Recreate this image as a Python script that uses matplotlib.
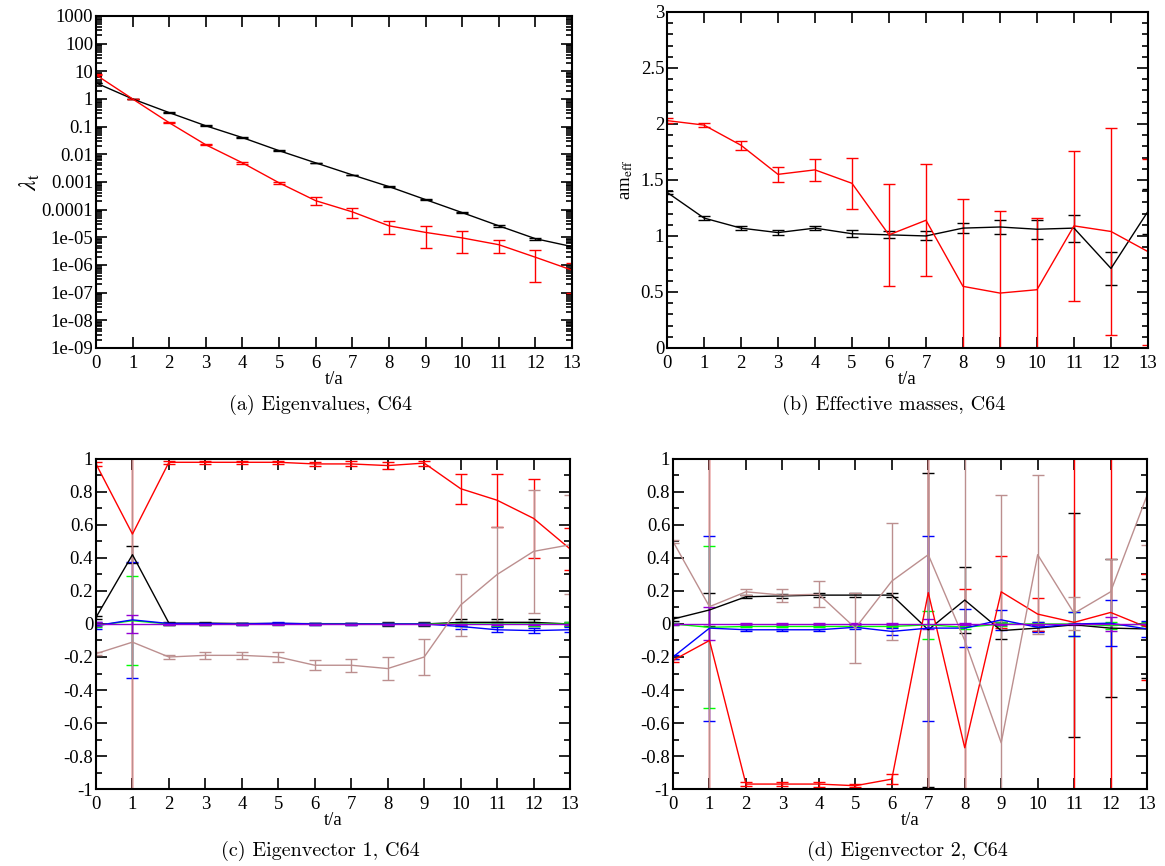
import numpy as np
import matplotlib
matplotlib.use("Agg")
import matplotlib.pyplot as plt
from matplotlib.ticker import FixedLocator, MultipleLocator, LogLocator, NullFormatter, FuncFormatter

plt.rcParams['font.family'] = ['Liberation Serif', 'DejaVu Serif']
plt.rcParams['mathtext.fontset'] = 'stix'
plt.rcParams['axes.unicode_minus'] = False

t = np.arange(14)

# ---------------- (a) eigenvalues ----------------
a_black = [3.8, 1.0, 0.32, 0.107, 0.04, 0.0135, 0.0049, 0.0018, 0.00068, 0.00023,
           7.8e-5, 2.6e-5, 8.9e-6, 4.6e-6]
a_black_err = [0.05, 0.0, 0.008, 0.003, 0.001, 0.0004, 0.00013, 5e-5, 2e-5, 8e-6,
               3e-6, 1.5e-6, 7e-7, 4e-7]
a_red = [7.4, 1.0, 0.138, 0.022, 0.0049, 0.00093, 2.1e-4, 8.3e-5, 2.6e-5, 1.5e-5,
         9.5e-6, 5.4e-6, 1.9e-6, 6.5e-7]
a_red_err = [0.3, 0.0, 0.007, 0.0012, 0.0003, 9e-5, 6.5e-5, 3.2e-5, 1.3e-5, 1.1e-5,
             6.8e-6, 2.7e-6, 1.65e-6, 5.5e-7]
a_ytick_vals = [1e3, 1e2, 1e1, 1e0, 1e-1, 1e-2, 1e-3, 1e-4, 1e-5, 1e-6, 1e-7, 1e-8, 1e-9]
a_ytick_labels = ['1000', '100', '10', '1', '0.1', '0.01', '0.001', '0.0001',
                  '1e-05', '1e-06', '1e-07', '1e-08', '1e-09']

# ---------------- (b) effective masses ----------------
b_black = [1.39, 1.16, 1.07, 1.03, 1.07, 1.02, 1.01, 1.0, 1.07, 1.08, 1.06, 1.07, 0.71, 1.22]
b_black_err = [0.015, 0.015, 0.02, 0.025, 0.02, 0.03, 0.03, 0.04, 0.045, 0.06, 0.085, 0.12, 0.15, 0.2]
b_red = [2.03, 1.99, 1.81, 1.55, 1.59, 1.47, 1.01, 1.14, 0.55, 0.49, 0.52, 1.09, 1.04, 0.86]
b_red_err = [0.02, 0.02, 0.04, 0.065, 0.1, 0.23, 0.455, 0.5, 0.78, 0.73, 0.64, 0.67, 0.92, 0.83]
b_ytick_labels = ['0', '0.5', '1', '1.5', '2', '2.5', '3']

# ---------------- (c) eigenvector 1 ----------------
c_black = [0.04, 0.42, 0.005, 0.005, 0.003, 0.003, 0.002, 0.002, 0.0, 0.0, 0.01, 0.01, 0.01, 0.0]
c_black_err = [0.01, 0.05, 0.01, 0.01, 0.005, 0.005, 0.005, 0.005, 0.01, 0.01, 0.02, 0.02, 0.02, 0.01]
c_red = [0.97, 0.545, 0.98, 0.98, 0.98, 0.98, 0.97, 0.97, 0.96, 0.975, 0.82, 0.75, 0.64, 0.455]
c_red_err = [0.01, 1.6, 0.01, 0.01, 0.01, 0.01, 0.01, 0.015, 0.02, 0.015, 0.09, 0.16, 0.24, 0.125]
c_green = [-0.01, 0.02, 0.0, 0.0, 0.0, 0.0, 0.0, 0.0, 0.0, 0.0, 0.0, 0.0, 0.0, 0.0]
c_green_err = [0.01, 0.27, 0.005, 0.005, 0.005, 0.005, 0.005, 0.005, 0.005, 0.005, 0.01, 0.01, 0.01, 0.01]
c_blue = [-0.01, 0.025, 0.003, 0.003, 0.0, 0.005, 0.0, 0.0, 0.0, 0.0, -0.015, -0.035, -0.04, -0.035]
c_blue_err = [0.02, 0.35, 0.005, 0.005, 0.005, 0.005, 0.005, 0.005, 0.005, 0.005, 0.015, 0.015, 0.015, 0.015]
c_violet = [0.0, 0.0, 0.0, 0.0, 0.0, 0.0, 0.0, 0.0, 0.0, 0.0, 0.0, 0.0, 0.0, 0.0]
c_violet_err = [0.01, 0.055, 0.005, 0.005, 0.005, 0.005, 0.005, 0.005, 0.005, 0.005, 0.005, 0.005, 0.005, 0.005]
c_brown = [-0.18, -0.11, -0.2, -0.19, -0.19, -0.2, -0.25, -0.25, -0.27, -0.2, 0.115, 0.3, 0.44, 0.48]
c_brown_err = [0.01, 1.5, 0.01, 0.02, 0.02, 0.03, 0.03, 0.04, 0.07, 0.11, 0.185, 0.29, 0.375, 0.3]

# ---------------- (d) eigenvector 2 ----------------
d_black = [0.03, 0.085, 0.165, 0.17, 0.175, 0.175, 0.175, -0.035, 0.145, -0.04, -0.025, -0.005, -0.025, -0.03]
d_black_err = [0.01, 0.1, 0.01, 0.01, 0.01, 0.01, 0.01, 0.95, 0.2, 0.05, 0.02, 0.68, 0.42, 0.3]
d_red = [-0.22, -0.1, -0.97, -0.97, -0.97, -0.98, -0.94, 0.19, -0.75, 0.195, 0.06, 0.01, 0.07, -0.02]
d_red_err = [0.01, 1.5, 0.01, 0.01, 0.015, 0.01, 0.03, 1.5, 0.96, 0.22, 0.1, 1.5, 1.5, 0.32]
d_green = [0.0, -0.02, -0.015, -0.015, -0.015, -0.015, -0.015, -0.005, -0.02, 0.0, 0.0, 0.0, -0.01, 0.0]
d_green_err = [0.005, 0.49, 0.005, 0.005, 0.005, 0.005, 0.005, 0.085, 0.01, 0.01, 0.01, 0.07, 0.02, 0.01]
d_blue = [-0.2, -0.025, -0.035, -0.035, -0.035, -0.02, -0.045, -0.025, -0.025, 0.025, -0.02, 0.0, 0.005, -0.03]
d_blue_err = [0.01, 0.56, 0.005, 0.005, 0.005, 0.01, 0.02, 0.56, 0.115, 0.06, 0.03, 0.07, 0.14, 0.05]
d_violet = [0.0, 0.0, 0.0, 0.0, 0.0, 0.0, 0.0, 0.0, 0.0, 0.0, 0.0, 0.0, 0.0, 0.0]
d_violet_err = [0.005, 0.1, 0.005, 0.005, 0.005, 0.005, 0.005, 0.03, 0.005, 0.005, 0.005, 0.005, 0.04, 0.005]
d_brown = [0.5, 0.105, 0.195, 0.175, 0.18, -0.025, 0.26, 0.42, -0.1, -0.72, 0.42, 0.065, 0.195, 0.78]
d_brown_err = [0.01, 1.5, 0.02, 0.04, 0.08, 0.21, 0.355, 1.5, 1.5, 1.5, 0.48, 0.1, 0.2, 0.3]

vec_ytick_labels = ['-1', '-0.8', '-0.6', '-0.4', '-0.2', '0', '0.2', '0.4', '0.6', '0.8', '1']

captions = ['(a) Eigenvalues, C64', '(b) Effective masses, C64',
            '(c) Eigenvector 1, C64', '(d) Eigenvector 2, C64']

C_BLACK = '#000000'
C_RED = '#ff0000'
C_GREEN = '#00ff00'
C_BLUE = '#0000ff'
C_VIOLET = '#9400d3'
C_BROWN = '#bc8f8f'

fig = plt.figure(figsize=(11.65, 8.66), dpi=100)

ax_a = fig.add_axes([0.0824, 0.5982, 0.4086, 0.3834])
ax_b = fig.add_axes([0.5725, 0.5982, 0.4129, 0.3880])
ax_c = fig.add_axes([0.0824, 0.0889, 0.4069, 0.3811])
ax_d = fig.add_axes([0.5777, 0.0889, 0.4069, 0.3811])

TICKFS = 13.5


def eb(ax, y, err, color):
    ax.errorbar(t, y, yerr=err, color=color, lw=1.0, elinewidth=1.0,
                capsize=4, capthick=1.0, clip_on=True)


def style(ax):
    for s in ax.spines.values():
        s.set_linewidth(1.5)
    ax.set_xlim(0, 13)
    ax.xaxis.set_major_locator(FixedLocator(list(t)))
    ax.tick_params(which='both', direction='in', top=True, right=True,
                   labelsize=TICKFS, width=1.2)
    ax.tick_params(which='major', length=8, pad=2)
    ax.tick_params(axis='x', which='major', pad=5)
    ax.tick_params(which='minor', length=4)
    ax.set_xlabel('t/a', fontsize=TICKFS, labelpad=-1)


# (a)
eb(ax_a, a_black, a_black_err, C_BLACK)
eb(ax_a, a_red, a_red_err, C_RED)
ax_a.set_yscale('log')
style(ax_a)
ax_a.set_ylim(1e-9, 1e3)
ax_a.yaxis.set_major_locator(FixedLocator(a_ytick_vals))
ax_a.yaxis.set_major_formatter(FuncFormatter(
    lambda v, p: a_ytick_labels[a_ytick_vals.index(min(a_ytick_vals, key=lambda q: abs(np.log10(q) - np.log10(v))))]))
ax_a.yaxis.set_minor_locator(LogLocator(base=10, subs=np.arange(2, 10), numticks=40))
ax_a.yaxis.set_minor_formatter(NullFormatter())
ax_a.set_ylabel(r'$\lambda_{\mathrm{t}}$', fontsize=17, labelpad=0)

# (b)
eb(ax_b, b_black, b_black_err, C_BLACK)
eb(ax_b, b_red, b_red_err, C_RED)
style(ax_b)
ax_b.set_ylim(0, 3)
ax_b.yaxis.set_major_locator(MultipleLocator(0.5))
ax_b.yaxis.set_minor_locator(MultipleLocator(0.1))
ax_b.yaxis.set_major_formatter(FuncFormatter(lambda v, p: b_ytick_labels[int(round(v / 0.5))] if 0 <= round(v / 0.5) < len(b_ytick_labels) else ''))
ax_b.set_ylabel(r'am$_{\mathrm{eff}}$', fontsize=TICKFS, labelpad=4)

# (c)
for y, e, c in [(c_black, c_black_err, C_BLACK), (c_red, c_red_err, C_RED),
                (c_green, c_green_err, C_GREEN), (c_blue, c_blue_err, C_BLUE),
                (c_brown, c_brown_err, C_BROWN), (c_violet, c_violet_err, C_VIOLET)]:
    eb(ax_c, y, e, c)
# (d)
for y, e, c in [(d_black, d_black_err, C_BLACK), (d_red, d_red_err, C_RED),
                (d_green, d_green_err, C_GREEN), (d_blue, d_blue_err, C_BLUE),
                (d_brown, d_brown_err, C_BROWN), (d_violet, d_violet_err, C_VIOLET)]:
    eb(ax_d, y, e, c)

for ax in (ax_c, ax_d):
    style(ax)
    ax.set_ylim(-1, 1)
    ax.yaxis.set_major_locator(MultipleLocator(0.2))
    ax.yaxis.set_minor_locator(MultipleLocator(0.1))
    ax.yaxis.set_major_formatter(FuncFormatter(
        lambda v, p: vec_ytick_labels[int(round((v + 1) / 0.2))] if 0 <= round((v + 1) / 0.2) < len(vec_ytick_labels) else ''))

CAPFS = 14.5
fig.text(0.2747, 1 - 405 / 866, captions[0], fontsize=CAPFS, family='cmr10', ha='center', va='center')
fig.text(0.7674, 1 - 405 / 866, captions[1], fontsize=CAPFS, family='cmr10', ha='center', va='center')
fig.text(0.2747, 1 - 851 / 866, captions[2], fontsize=CAPFS, family='cmr10', ha='center', va='center')
fig.text(0.7790, 1 - 851 / 866, captions[3], fontsize=CAPFS, family='cmr10', ha='center', va='center')

fig.savefig('out.png', dpi=100)
